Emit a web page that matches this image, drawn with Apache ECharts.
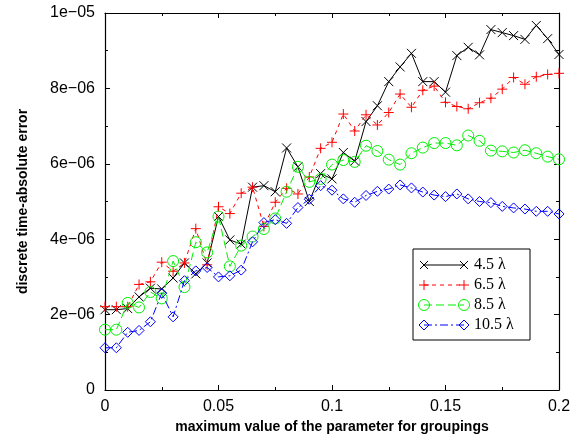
<!DOCTYPE html>
<html>
<head>
<meta charset="utf-8">
<script src="https://cdn.jsdelivr.net/npm/echarts@6/dist/echarts.min.js"></script>
<style>
html,body{margin:0;padding:0;background:#fff;}
#c{width:581px;height:442px;}
</style>
</head>
<body>
<div id="c"></div>
<script>
// x: maximum value of the parameter for groupings
var xValues = [0,0.005,0.01,0.015,0.02,0.025,0.03,0.035,0.04,0.045,0.05,0.055,0.06,0.065,0.07,0.075,0.08,0.085,0.09,0.095,0.1,0.105,0.11,0.115,0.12,0.125,0.13,0.135,0.14,0.145,0.15,0.155,0.16,0.165,0.17,0.175,0.18,0.185,0.19,0.195,0.2];
// errors in units of 1e-06
var err45 = [2.13,2.13,2.16,2.47,2.7,2.68,2.97,3.37,3.08,3.37,4.6,3.98,3.87,5.38,5.42,5.26,6.42,5.92,5.0,5.74,5.6,6.3,6.07,7.12,7.54,8.18,8.57,8.93,8.18,8.18,7.9,8.87,9.09,8.89,9.56,9.48,9.4,9.3,9.67,9.32,8.9];
var err65 = [2.21,2.21,2.21,2.8,2.87,3.39,3.15,3.37,4.28,3.32,4.86,4.68,5.22,5.38,4.34,4.98,5.35,5.2,5.65,6.41,6.57,7.32,6.87,7.3,7.03,7.36,7.85,7.5,7.95,8.06,7.63,7.52,7.46,7.62,7.74,7.98,8.29,8.11,8.31,8.37,8.4];
var err85 = [1.6,1.6,2.31,2.19,2.6,2.43,3.42,2.73,3.92,3.65,4.6,3.28,3.83,4.07,4.27,4.55,5.26,5.92,5.52,5.6,5.98,6.1,6.05,6.48,6.34,6.11,5.98,6.28,6.43,6.55,6.55,6.49,6.75,6.61,6.35,6.33,6.3,6.36,6.28,6.19,6.12];
var err105 = [1.12,1.12,1.53,1.58,1.81,2.57,1.94,2.9,3.16,3.25,3.0,3.03,3.18,3.93,4.44,4.52,4.42,4.84,5.06,5.42,5.3,5.07,4.98,5.16,5.27,5.33,5.44,5.36,5.25,5.17,5.13,5.2,5.07,5.0,4.97,4.87,4.83,4.8,4.74,4.74,4.67];
var seriesNames = ['4.5 λ','6.5 λ','8.5 λ','10.5 λ'];
var yTickValues = [0,2,4,6,8,10];
var yTickLabels = ['0','2e\u221206','4e\u221206','6e\u221206','8e\u221206','1e\u221205'];
var xTickLabels = ['0','0.05','0.1','0.15','0.2'];

var colors = ['#000000','#ff0000','#00f000','#0000ff'];
var dashes = ['solid',[4,4],[8,4],[8,3,2,3]];
var symbols = ['path://M0,0L10,10M10,0L0,10','path://M5,0L5,10M0,5L10,5','circle','diamond'];
var symSizes = [9,10,11,10];
var allData = [err45, err65, err85, err105];

function pairs(ys){ return xValues.map(function(x,i){ return [x, ys[i]]; }); }

var font = 'Liberation Sans, Arial, sans-serif';
function yFmt(v){ var k = yTickValues.indexOf(Math.round(v)); return k>=0 ? yTickLabels[k] : ''; }
function xFmt(v){ var k = Math.round(v/0.05); return xTickLabels[k] !== undefined ? xTickLabels[k] : ''; }

var axisCommon = {
  axisLine:{show:true,onZero:false,lineStyle:{color:'#000',width:1.2}},
  axisTick:{show:true,inside:true,length:5,lineStyle:{color:'#000'}},
  minorTick:{show:true,splitNumber:2,length:3,lineStyle:{color:'#000'}},
  splitLine:{show:false}
};
function ax(extra){ return Object.assign({}, JSON.parse(JSON.stringify(axisCommon)), extra); }

var series = allData.map(function(d,k){
  return {
    name: seriesNames[k], type:'line', data: pairs(d),
    symbol: symbols[k], symbolSize: symSizes[k],
    itemStyle:{color:'transparent', borderColor:colors[k], borderWidth:1},
    lineStyle:{color:colors[k], width:1, type:dashes[k]},
    z: 2+k
  };
});

// legend drawn as graphic
var lg = [];
var lx0 = 413, ly0 = 249;
lg.push({type:'rect', shape:{x:lx0,y:ly0,width:117,height:91}, style:{fill:'#fff',stroke:'#000',lineWidth:1}, z:10});
function markerEls(k,cx,cy){
  var c = colors[k], st={stroke:c,lineWidth:1,fill:null};
  if(k===0) return [{type:'line',shape:{x1:cx-4,y1:cy-4,x2:cx+4,y2:cy+4},style:st,z:12},{type:'line',shape:{x1:cx-4,y1:cy+4,x2:cx+4,y2:cy-4},style:st,z:12}];
  if(k===1) return [{type:'line',shape:{x1:cx-5,y1:cy,x2:cx+5,y2:cy},style:st,z:12},{type:'line',shape:{x1:cx,y1:cy-5,x2:cx,y2:cy+5},style:st,z:12}];
  if(k===2) return [{type:'circle',shape:{cx:cx,cy:cy,r:5.5},style:{stroke:c,lineWidth:1,fill:'transparent'},z:12}];
  return [{type:'polygon',shape:{points:[[cx,cy-5],[cx+5,cy],[cx,cy+5],[cx-5,cy]]},style:{stroke:c,lineWidth:1,fill:'transparent'},z:12}];
}
for(var k=0;k<4;k++){
  var yy = 265 + 20*k;
  lg.push({type:'line', shape:{x1:424,y1:yy,x2:464,y2:yy}, style:{stroke:colors[k],lineWidth:1,lineDash:dashes[k]==='solid'?null:dashes[k]}, z:11});
  lg = lg.concat(markerEls(k,424,yy), markerEls(k,464,yy));
  lg.push({type:'text', x:474, y:yy, style:{text:seriesNames[k], font:'16px "Liberation Serif", "Times New Roman", serif', fill:'#000', verticalAlign:'middle', textAlign:'left'}, z:12});
}

var option = {
  animation:false,
  backgroundColor:'#fff',
  grid:{left:105,right:22,top:13,bottom:52,containLabel:false},
  xAxis:[
    ax({type:'value',position:'bottom',min:0,max:0.2,interval:0.05,
      axisLabel:{show:true,formatter:xFmt,color:'#000',fontFamily:font,fontSize:16,margin:9},
      name:'maximum value of the parameter for groupings',nameLocation:'middle',nameGap:30,
      nameTextStyle:{fontFamily:font,fontSize:14,fontWeight:'bold',color:'#000'}}),
    ax({type:'value',position:'top',min:0,max:0.2,interval:0.05,axisLabel:{show:false}})
  ],
  yAxis:[
    ax({type:'value',position:'left',min:0,max:10,interval:2,
      axisLabel:{show:true,formatter:yFmt,color:'#000',fontFamily:font,fontSize:16,margin:10},
      name:'discrete time-absolute error',nameLocation:'middle',nameGap:75,
      nameTextStyle:{fontFamily:font,fontSize:14,fontWeight:'bold',color:'#000'}}),
    ax({type:'value',position:'right',min:0,max:10,interval:2,axisLabel:{show:false}})
  ],
  series: series,
  graphic: lg
};
var chart = echarts.init(document.getElementById('c'), null, {renderer:'canvas'});
chart.setOption(option);
</script>
</body>
</html>
